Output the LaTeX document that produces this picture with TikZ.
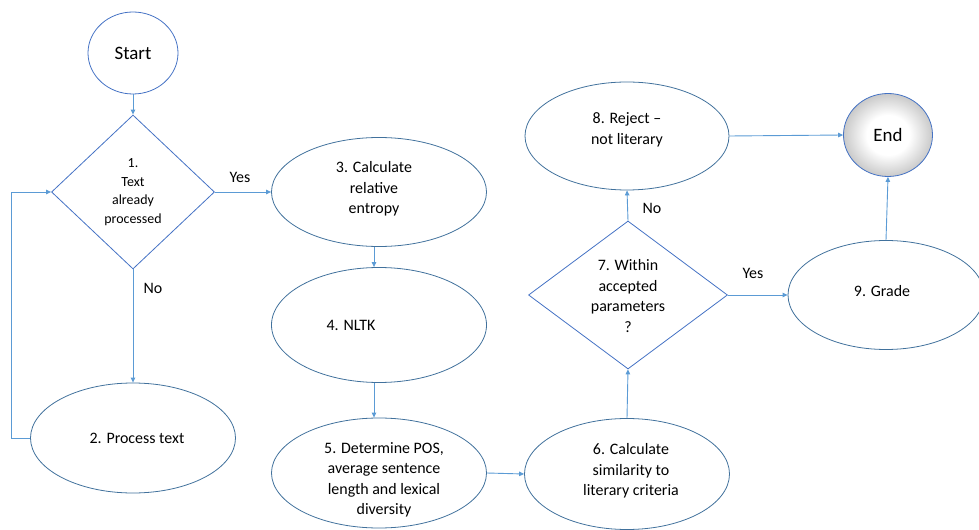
\documentclass[tikz,border=0pt]{standalone}
\usepackage{fontspec}
\setmainfont{Carlito}
\usetikzlibrary{shapes.geometric,arrows.meta}
\definecolor{ovalline}{HTML}{41719C}
\definecolor{diamline}{HTML}{4472C4}
\definecolor{flow}{HTML}{5B9BD5}
% soft grey rim shading for the End terminal
\pgfdeclareradialshading{endglow}{\pgfpoint{0bp}{0bp}}{%
  color(0bp)=(white); color(12bp)=(white); color(25bp)=(black!21); color(50bp)=(black!21)}
\begin{document}
\begin{tikzpicture}[x=1bp,y=-1bp,
  bodyfont/.style={font=\fontsize{16}{20.5}\selectfont},
  oval/.style={ellipse,draw=ovalline,line width=0.8bp,inner sep=0pt},
  decision/.style={diamond,draw=diamline,line width=0.8bp,inner sep=0pt},
  every label/.style={align=center,inner sep=0pt,bodyfont},
  flowline/.style={draw=flow,line width=0.9bp,-{Triangle[length=5bp,width=4.5bp]}},
  tag/.style={bodyfont,inner sep=0pt}]
\useasboundingbox (0,0) rectangle (979,530);

% terminals
\node[oval,draw=diamline,minimum width=90bp,minimum height=82bp,
      font=\fontsize{19}{22}\selectfont] (start) at (133,53) {Start};
\node[oval,draw=diamline,minimum width=89bp,minimum height=83bp,
      shading=endglow,
      font=\fontsize{19}{22}\selectfont] (end) at (888,135) {End};

% decisions
\node[decision,minimum width=163bp,minimum height=154bp,
      label={[font=\fontsize{14}{18.5}\selectfont]center:1.\\Text\\already\\processed}]
      (d1) at (133,192) {};
\node[decision,minimum width=199bp,minimum height=148bp,
      label={[yshift=-1bp]center:7. Within\\accepted\\parameters\\?}]
      (d7) at (628,295) {};

% process steps
\node[oval,minimum width=205bp,minimum height=110bp,
      label={[xshift=4bp]center:2. Process text}] (p2) at (133,438) {};
\node[oval,minimum width=215bp,minimum height=109bp,
      label={[xshift=-5bp,yshift=3bp]center:3. Calculate\\relative\\entropy}] (p3) at (379,192) {};
\node[oval,minimum width=215bp,minimum height=115bp,
      label={[xshift=-28bp]center:4. NLTK}] (p4) at (379,325) {};
\node[oval,minimum width=215bp,minimum height=110bp,
      label={[xshift=5bp,yshift=-7bp]center:5. Determine POS,\\average sentence\\length and lexical\\diversity}] (p5) at (379,473) {};
\node[oval,minimum width=205bp,minimum height=111bp,
      label={[xshift=4bp,yshift=3bp]center:6. Calculate\\similarity to\\literary criteria}] (p6) at (627,474) {};
\node[oval,minimum width=204bp,minimum height=108bp,
      label={[yshift=6bp]center:8. Reject --\\not literary}] (p8) at (627,136) {};
\node[oval,minimum width=196bp,minimum height=109bp,
      label={[xshift=-4bp,yshift=4bp]center:9. Grade}] (p9) at (886,295) {};

% connectors
\coordinate (loopx) at (11,0);
\coordinate (stemx) at (374,0);
\draw[flowline] (start) -- (d1);
\draw[flowline] (d1.east) -- (p3.west);
\draw[flowline] (d1.south) -- (p2.north);
\draw[flowline] (p2.west) -- (p2.west -| loopx) -- (d1.west -| loopx) -- (d1.west);
\draw[flowline] (p3.south -| stemx) -- (p4.north -| stemx);
\draw[flowline] (p4.south -| stemx) -- (p5.north -| stemx);
\draw[flowline] (p5.east) -- (p6.west);
\draw[flowline] (p6.north) -- (d7.south);
\draw[flowline] (d7.north) -- (p8.south);
\draw[flowline] (d7.east) -- (p9.west);
\draw[flowline] (p8.east) -- (end.west);
\draw[flowline] (p9.north) -- (end.south);

% branch labels
\node[tag] (yes1) at (240,177) {Yes};
\node[tag] (no1) at (153,288) {No};
\node[tag] (no7) at (652,208) {No};
\node[tag] (yes7) at (753,273) {Yes};
\end{tikzpicture}
\end{document}
